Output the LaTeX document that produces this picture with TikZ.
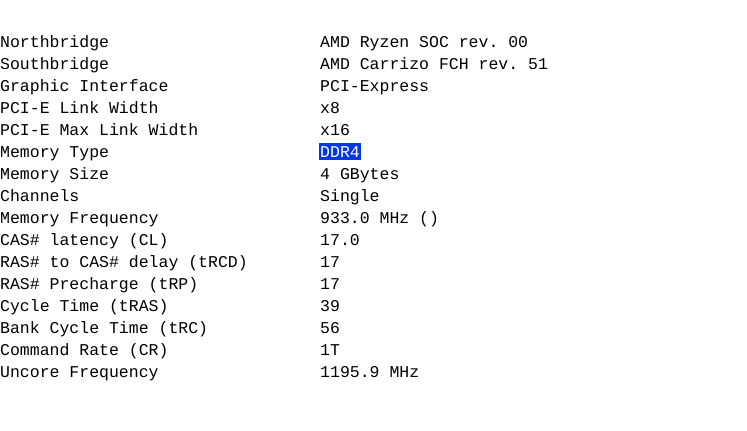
\documentclass[tikz,border=0pt]{standalone}
\usepackage{fontspec}
\setmonofont{Liberation Mono}
\usetikzlibrary{positioning}
\tikzset{
  field/.style={anchor=base west, inner sep=0pt, font=\fontsize{16.5}{18}\ttfamily},
  selected/.style={field, fill=blue!75!cyan!90!black, text=white, inner ysep=3pt, inner xsep=1pt}
}
\begin{document}
\begin{tikzpicture}[x=1pt,y=-1pt]
\useasboundingbox (0,0) rectangle (747,431);

% left column: labels, right column: values
\foreach \lab/\val [count=\i] in {
  Northbridge/AMD Ryzen SOC rev. 00,
  Southbridge/AMD Carrizo FCH rev. 51,
  Graphic Interface/PCI-Express,
  PCI-E Link Width/x8,
  PCI-E Max Link Width/x16,
  Memory Type/,
  Memory Size/4 GBytes,
  Channels/Single,
  Memory Frequency/933.0 MHz (),
  CAS\# latency (CL)/17.0,
  RAS\# to CAS\# delay (tRCD)/17,
  RAS\# Precharge (tRP)/17,
  Cycle Time (tRAS)/39,
  Bank Cycle Time (tRC)/56,
  Command Rate (CR)/1T,
  Uncore Frequency/1195.9 MHz}
{
  \node[field] (l\i) at (0,{47+22*(\i-1)}) {\lab};
  \node[field] (r\i) at (320,{47+22*(\i-1)}) {\val};
}

% highlighted value
\node[selected] (mtype) at (319,157) {DDR4};

\end{tikzpicture}
\end{document}
